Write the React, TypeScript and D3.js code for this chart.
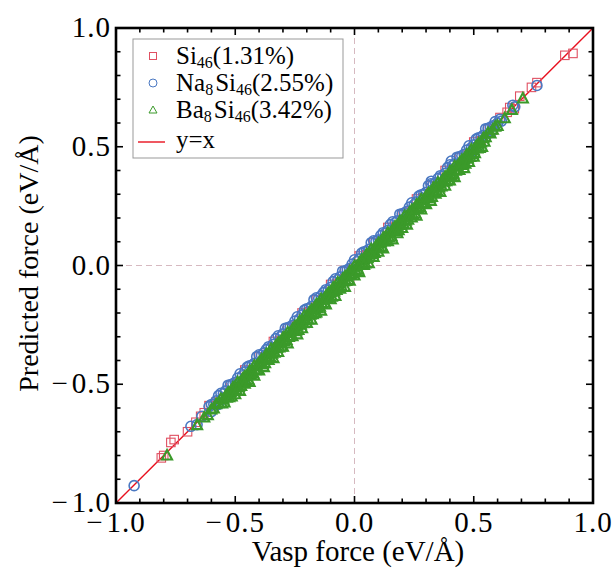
import React from "react";
import * as d3 from "d3";

const xTicks = [-1.0, -0.5, 0.0, 0.5, 1.0];
const yTicks = [-1.0, -0.5, 0.0, 0.5, 1.0];
const tickLabels = ["\u22121.0", "\u22120.5", "0.0", "0.5", "1.0"];

const si46: [number, number][] = [
  [-0.61,-0.59],[-0.58,-0.575],[-0.55,-0.56],[-0.52,-0.505],[-0.49,-0.495],[-0.46,-0.44],[-0.43,-0.445],[-0.40,-0.385],
  [-0.37,-0.375],[-0.34,-0.32],[-0.31,-0.315],[-0.28,-0.265],[-0.25,-0.255],[-0.22,-0.20],[-0.19,-0.195],[-0.16,-0.145],
  [-0.13,-0.135],[-0.10,-0.08],[-0.07,-0.075],[-0.04,-0.025],[-0.01,-0.015],[0.02,0.04],[0.05,0.045],[0.08,0.095],
  [0.11,0.105],[0.14,0.16],[0.17,0.165],[0.20,0.215],[0.23,0.225],[0.26,0.28],[0.29,0.285],[0.32,0.335],[0.35,0.345],
  [0.38,0.40],[0.41,0.405],[0.44,0.455],[0.47,0.465],[0.50,0.52],[0.53,0.525],[0.56,0.575],[0.58,0.57],
  [-0.81,-0.81],[-0.80,-0.80],[-0.77,-0.745],[-0.756,-0.733],[-0.70,-0.70],[-0.665,-0.66],[-0.645,-0.635],[-0.63,-0.62],
  [0.882,0.885],[0.916,0.893],[0.765,0.77],[0.742,0.75],[0.693,0.713],[0.651,0.665],[0.61,0.623],[0.67,0.66],[0.64,0.645],
];

const na8si46: [number, number][] = [
  [-0.600,-0.585],[-0.580,-0.570],[-0.560,-0.538],[-0.540,-0.528],[-0.520,-0.502],[-0.500,-0.492],[-0.480,-0.456],
  [-0.460,-0.448],[-0.440,-0.422],[-0.420,-0.412],[-0.400,-0.376],[-0.380,-0.368],[-0.360,-0.342],[-0.340,-0.332],
  [-0.320,-0.296],[-0.300,-0.288],[-0.280,-0.262],[-0.260,-0.252],[-0.240,-0.216],[-0.220,-0.208],[-0.200,-0.182],
  [-0.180,-0.172],[-0.160,-0.136],[-0.140,-0.128],[-0.120,-0.102],[-0.100,-0.092],[-0.080,-0.056],[-0.060,-0.048],
  [-0.040,-0.022],[-0.020,-0.012],[0.000,0.024],[0.020,0.028],[0.040,0.058],[0.060,0.068],[0.080,0.104],[0.100,0.108],
  [0.120,0.138],[0.140,0.148],[0.160,0.184],[0.180,0.188],[0.200,0.218],[0.220,0.228],[0.240,0.264],[0.260,0.268],
  [0.280,0.298],[0.300,0.308],[0.320,0.344],[0.340,0.348],[0.360,0.378],[0.380,0.388],[0.400,0.424],[0.420,0.428],
  [0.440,0.458],[0.460,0.468],[0.480,0.504],[0.500,0.508],[0.520,0.538],[0.540,0.548],[0.560,0.578],[0.580,0.588],
  [-0.61,-0.594],[-0.59,-0.584],[-0.57,-0.548],[-0.55,-0.540],[-0.53,-0.504],[-0.51,-0.498],[-0.49,-0.474],
  [-0.47,-0.464],[-0.45,-0.428],[-0.43,-0.420],[-0.41,-0.384],[-0.39,-0.378],[-0.37,-0.354],[-0.35,-0.344],
  [-0.33,-0.308],[-0.31,-0.300],[-0.29,-0.264],[-0.27,-0.258],[-0.25,-0.234],[-0.23,-0.224],[-0.21,-0.188],
  [-0.19,-0.180],[-0.17,-0.144],[-0.15,-0.138],[-0.13,-0.114],[-0.11,-0.104],[-0.09,-0.068],[-0.07,-0.060],
  [-0.05,-0.024],[-0.03,-0.018],[-0.01,0.006],[0.01,0.016],[0.03,0.052],[0.05,0.060],[0.07,0.096],[0.09,0.102],
  [0.11,0.126],[0.13,0.136],[0.15,0.172],[0.17,0.180],[0.19,0.216],[0.21,0.222],[0.23,0.246],[0.25,0.256],
  [0.27,0.292],[0.29,0.300],[0.31,0.336],[0.33,0.342],[0.35,0.366],[0.37,0.376],[0.39,0.412],[0.41,0.420],
  [0.43,0.456],[0.45,0.462],[0.47,0.486],[0.49,0.496],[0.51,0.532],[0.53,0.540],[0.55,0.576],[0.57,0.582],
  [0.59,0.606],[0.61,0.616],
  [-0.60,-0.615],[-0.57,-0.585],[-0.55,-0.56],[-0.52,-0.535],[-0.49,-0.50],[-0.46,-0.475],
  [0.46,0.445],[0.49,0.48],[0.52,0.505],[0.55,0.54],[0.575,0.565],
  [-0.924,-0.927],[-0.686,-0.677],[-0.66,-0.67],[-0.64,-0.635],[0.765,0.758],[0.664,0.675],[0.672,0.668],
  [0.616,0.608],[0.60,0.60],[0.406,0.44],[0.322,0.355],
];

const ba8si46: [number, number][] = [
  [-0.60,-0.606],[-0.59,-0.602],[-0.58,-0.584],[-0.57,-0.580],[-0.56,-0.562],[-0.55,-0.564],[-0.54,-0.548],
  [-0.53,-0.536],[-0.52,-0.532],[-0.51,-0.514],[-0.50,-0.510],[-0.49,-0.492],[-0.48,-0.494],[-0.47,-0.478],
  [-0.46,-0.466],[-0.45,-0.462],[-0.44,-0.444],[-0.43,-0.440],[-0.42,-0.422],[-0.41,-0.424],[-0.40,-0.408],
  [-0.39,-0.396],[-0.38,-0.392],[-0.37,-0.374],[-0.36,-0.370],[-0.35,-0.352],[-0.34,-0.354],[-0.33,-0.338],
  [-0.32,-0.326],[-0.31,-0.322],[-0.30,-0.304],[-0.29,-0.300],[-0.28,-0.282],[-0.27,-0.284],[-0.26,-0.268],
  [-0.25,-0.256],[-0.24,-0.252],[-0.23,-0.234],[-0.22,-0.230],[-0.21,-0.212],[-0.20,-0.214],[-0.19,-0.198],
  [-0.18,-0.186],[-0.17,-0.182],[-0.16,-0.164],[-0.15,-0.160],[-0.14,-0.142],[-0.13,-0.144],[-0.12,-0.128],
  [-0.11,-0.116],[-0.10,-0.112],[-0.09,-0.094],[-0.08,-0.090],[-0.07,-0.072],[-0.06,-0.074],[-0.05,-0.058],
  [-0.04,-0.046],[-0.03,-0.042],[-0.02,-0.024],[-0.01,-0.020],[0.00,-0.002],[0.01,-0.004],[0.02,0.012],
  [0.03,0.024],[0.04,0.028],[0.05,0.046],[0.06,0.050],[0.07,0.068],[0.08,0.066],[0.09,0.082],[0.10,0.094],
  [0.11,0.098],[0.12,0.116],[0.13,0.120],[0.14,0.138],[0.15,0.136],[0.16,0.152],[0.17,0.164],[0.18,0.168],
  [0.19,0.186],[0.20,0.190],[0.21,0.208],[0.22,0.206],[0.23,0.222],[0.24,0.234],[0.25,0.238],[0.26,0.256],
  [0.27,0.260],[0.28,0.278],[0.29,0.276],[0.30,0.292],[0.31,0.304],[0.32,0.308],[0.33,0.326],[0.34,0.330],
  [0.35,0.348],[0.36,0.346],[0.37,0.362],[0.38,0.374],[0.39,0.378],[0.40,0.396],[0.41,0.400],[0.42,0.418],
  [0.43,0.416],[0.44,0.432],[0.45,0.444],[0.46,0.448],[0.47,0.466],[0.48,0.470],[0.49,0.488],[0.50,0.486],
  [0.51,0.502],[0.52,0.514],[0.53,0.518],[0.54,0.536],[0.55,0.540],[0.56,0.558],[0.57,0.556],[0.58,0.572],
  [0.59,0.584],[0.60,0.588],
  [-0.555,-0.581],[-0.545,-0.577],[-0.535,-0.557],[-0.525,-0.555],[-0.515,-0.551],[-0.505,-0.529],[-0.495,-0.523],
  [-0.485,-0.511],[-0.475,-0.507],[-0.465,-0.487],[-0.455,-0.485],[-0.445,-0.481],[-0.435,-0.459],[-0.425,-0.453],
  [-0.415,-0.441],[-0.405,-0.437],[-0.395,-0.417],[-0.385,-0.415],[-0.375,-0.411],[-0.365,-0.389],[-0.355,-0.383],
  [-0.345,-0.371],[-0.335,-0.367],[-0.325,-0.347],[-0.315,-0.345],[-0.305,-0.341],[-0.295,-0.319],[-0.285,-0.313],
  [-0.275,-0.301],[-0.265,-0.297],[-0.255,-0.277],[-0.245,-0.275],[-0.235,-0.271],[-0.225,-0.249],[-0.215,-0.243],
  [-0.205,-0.231],[-0.195,-0.227],[-0.185,-0.207],[-0.175,-0.205],[-0.165,-0.201],[-0.155,-0.179],[-0.145,-0.173],
  [-0.135,-0.161],[-0.125,-0.157],[-0.115,-0.137],[-0.105,-0.135],[-0.095,-0.131],[-0.085,-0.109],[-0.075,-0.103],
  [-0.065,-0.091],[-0.055,-0.087],[-0.045,-0.067],[-0.035,-0.065],[-0.025,-0.061],[-0.015,-0.039],[-0.005,-0.033],
  [0.005,-0.021],[0.015,-0.017],[0.025,0.003],[0.035,0.005],[0.045,0.009],[0.055,0.031],[0.065,0.037],
  [0.075,0.049],[0.085,0.053],[0.095,0.073],[0.105,0.075],[0.115,0.079],[0.125,0.101],[0.135,0.107],
  [0.145,0.119],[0.155,0.123],[0.165,0.143],[0.175,0.145],[0.185,0.149],[0.195,0.171],[0.205,0.177],
  [0.215,0.189],[0.225,0.193],[0.235,0.213],[0.245,0.215],[0.255,0.219],[0.265,0.241],[0.275,0.247],
  [0.285,0.259],[0.295,0.263],[0.305,0.283],[0.315,0.285],[0.325,0.289],[0.335,0.311],[0.345,0.317],
  [0.355,0.329],[0.365,0.333],[0.375,0.353],[0.385,0.355],[0.395,0.359],[0.405,0.381],[0.415,0.387],
  [0.425,0.399],[0.435,0.403],[0.445,0.423],[0.455,0.425],[0.465,0.429],[0.475,0.451],[0.485,0.457],
  [0.495,0.469],[0.505,0.473],[0.515,0.493],[0.525,0.495],[0.535,0.499],[0.545,0.521],
  [-0.50,-0.542],[-0.48,-0.528],[-0.46,-0.498],[-0.44,-0.490],[-0.42,-0.464],[-0.40,-0.442],[-0.38,-0.428],
  [-0.36,-0.398],[-0.34,-0.390],[-0.32,-0.364],[-0.30,-0.342],[-0.28,-0.328],[-0.26,-0.298],[-0.24,-0.290],
  [-0.22,-0.264],[-0.20,-0.242],[-0.18,-0.228],[-0.16,-0.198],[-0.14,-0.190],[-0.12,-0.164],[-0.10,-0.142],
  [-0.08,-0.128],[-0.06,-0.098],[-0.04,-0.090],[-0.02,-0.064],[0.00,-0.042],[0.02,-0.028],[0.04,0.002],
  [0.06,0.010],[0.08,0.036],[0.10,0.058],[0.12,0.072],[0.14,0.102],[0.16,0.110],[0.18,0.136],[0.20,0.158],
  [0.22,0.172],[0.24,0.202],[0.26,0.210],[0.28,0.236],[0.30,0.258],[0.32,0.272],[0.34,0.302],[0.36,0.310],
  [0.38,0.336],[0.40,0.358],[0.42,0.372],[0.44,0.402],[0.46,0.410],[0.48,0.436],[0.50,0.458],
  [-0.786,-0.800],[-0.63,-0.64],[-0.615,-0.63],[0.706,0.703],[0.63,0.62],[0.66,0.655],[-0.66,-0.672],
];

const RED = "#e05062";
const BLUE = "#4a78c2";
const GREEN = "#3b9a2a";
const LINE_RED = "#e8101e";
const FONT = "Liberation Serif";

export default function App() {
  const W = 613, H = 578;
  const L = 116, R = 593, T = 28, B = 503;
  const x = d3.scaleLinear().domain([-1, 1]).range([L, R]);
  const y = d3.scaleLinear().domain([-1, 1]).range([B, T]);
  const minor = d3.range(-10, 11).map((v) => v / 10);
  const lineGen = d3.line<number>().x((v) => x(v)).y((v) => y(v));

  const sq = 8.5, cr = 5, tri = 10;
  const triPath = (cx: number, cy: number) =>
    `M${cx},${cy - tri * 0.55}L${cx + tri * 0.5},${cy + tri * 0.4}L${cx - tri * 0.5},${cy + tri * 0.4}Z`;

  const renderTick = (s: string) =>
    s.startsWith("\u2212") ? (
      <>
        {"\u2212"}
        <tspan dx={3}>{s.slice(1)}</tspan>
      </>
    ) : (
      s
    );

  return (
    <svg width={W} height={H} style={{ display: "block", position: "absolute", left: 0, top: 0, fontFamily: FONT }}>
      <rect x={0} y={0} width={W} height={H} fill="#fff" />
      <line x1={x(0)} x2={x(0)} y1={T} y2={B} stroke="#d6b9c0" strokeWidth={1} strokeDasharray="6,4" />
      <line x1={L} x2={R} y1={y(0)} y2={y(0)} stroke="#d6b9c0" strokeWidth={1} strokeDasharray="6,4" />
      <path d={lineGen([-1, 1]) || ""} stroke={LINE_RED} strokeWidth={1.4} fill="none" />
      <g fill="none" stroke={RED} strokeWidth={1.1}>
        {si46.map(([a, b], i) => (
          <rect key={i} x={x(a) - sq / 2} y={y(b) - sq / 2} width={sq} height={sq} />
        ))}
      </g>
      <g fill="none" stroke={BLUE} strokeWidth={1.6}>
        {na8si46.map(([a, b], i) => (
          <circle key={i} cx={x(a)} cy={y(b)} r={cr} />
        ))}
      </g>
      <g fill="none" stroke={GREEN} strokeWidth={2.1}>
        {ba8si46.map(([a, b], i) => (
          <path key={i} d={triPath(x(a), y(b))} />
        ))}
      </g>
      <rect x={L} y={T} width={R - L} height={B - T} fill="none" stroke="#000" strokeWidth={2.6} />
      <g stroke="#000" strokeWidth={1.6}>
        {minor.map((v, i) => {
          const major = Math.abs(v * 2 - Math.round(v * 2)) < 1e-6;
          const len = major ? 7 : 4.5;
          return (
            <g key={i}>
              <line x1={x(v)} x2={x(v)} y1={B} y2={B - len} />
              <line x1={x(v)} x2={x(v)} y1={T} y2={T + len} />
              <line x1={L} x2={L + len} y1={y(v)} y2={y(v)} />
              <line x1={R} x2={R - len} y1={y(v)} y2={y(v)} />
            </g>
          );
        })}
      </g>
      <g fontFamily={FONT} fontSize={29} letterSpacing={1} fill="#000">
        {xTicks.map((v, i) => (
          <text key={"x" + i} x={x(v)} y={532} textAnchor="middle">{renderTick(tickLabels[i])}</text>
        ))}
        {yTicks.map((v, i) => (
          <text key={"y" + i} x={111} y={y(v) + 9} textAnchor="end">{renderTick(tickLabels[i])}</text>
        ))}
      </g>
      <text x={358} y={561} textAnchor="middle" fontFamily={FONT} fontSize={29}>Vasp force (eV/Å)</text>
      <text transform={`translate(38,${(T + B) / 2 - 2}) rotate(-90)`} textAnchor="middle" fontFamily={FONT} fontSize={28}>Predicted force (eV/Å)</text>
      <g fontFamily={FONT} fontSize={25}>
        <rect x={133} y={39} width={210} height={119} fill="#fff" stroke="#999" strokeWidth={1} />
        <rect x={153 - 3.5} y={56 - 3.5} width={7} height={7} fill="none" stroke={RED} strokeWidth={1} />
        <text x={176} y={64}>Si<tspan fontSize={16} dy={4}>46</tspan><tspan dy={-4}>(1.31%)</tspan></text>
        <circle cx={153} cy={83} r={4} fill="none" stroke={BLUE} strokeWidth={1} />
        <text x={176} y={91}>Na<tspan fontSize={16} dy={4}>8</tspan><tspan dy={-4} dx={2}>Si</tspan><tspan fontSize={16} dy={4}>46</tspan><tspan dy={-4}>(2.55%)</tspan></text>
        <path d={`M153,106L157,113L149,113Z`} fill="none" stroke={GREEN} strokeWidth={1} />
        <text x={176} y={118}>Ba<tspan fontSize={16} dy={4}>8</tspan><tspan dy={-4} dx={2}>Si</tspan><tspan fontSize={16} dy={4}>46</tspan><tspan dy={-4}>(3.42%)</tspan></text>
        <line x1={138} x2={165} y1={142} y2={142} stroke={LINE_RED} strokeWidth={1.4} />
        <text x={176} y={148}>y=x</text>
      </g>
    </svg>
  );
}
